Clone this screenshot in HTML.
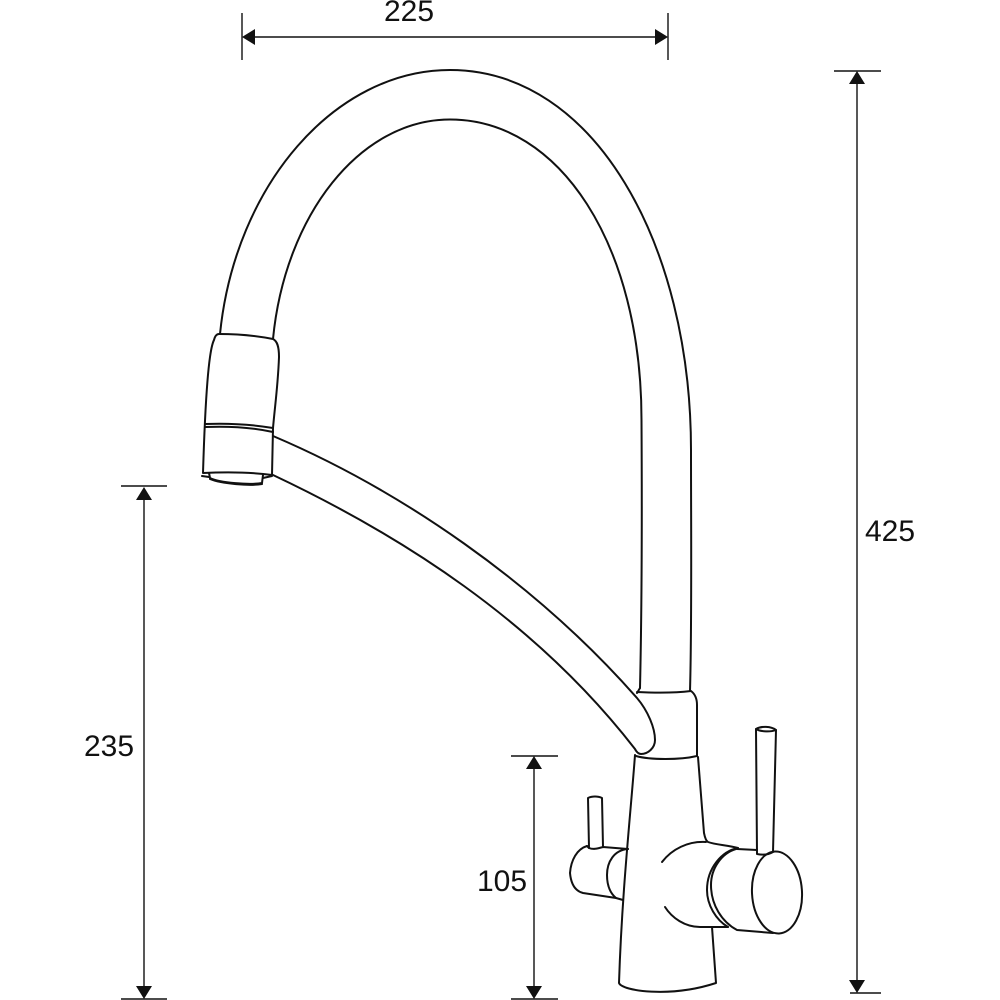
<!DOCTYPE html>
<html><head><meta charset="utf-8"><style>
html,body{margin:0;padding:0;background:#fff}
svg{display:block}
text{font-family:"Liberation Sans",sans-serif;font-size:30px;fill:#111}
.l{fill:#fff;stroke:#111;stroke-width:2;stroke-linejoin:round;stroke-linecap:round}
.n{fill:none;stroke:#111;stroke-width:2;stroke-linejoin:round;stroke-linecap:round}
.d{stroke:#111;stroke-width:1.4;fill:none}
</style></head><body>
<svg width="1000" height="1000" viewBox="0 0 1000 1000" xmlns="http://www.w3.org/2000/svg">
<!-- dimensions -->
<path class="d" d="M242,13V60M668,13V60M250,37H660M834,71H881M850,993H881M857,80V985M121,486H167M121,999H167M144,495V992M511,756H558M511,999H558M534,765V992"/>
<path d="M242,37L255,29V45ZM668,37L655,29V45ZM857,71L849,84H865ZM857,993L849,980H865ZM144,487L136,500H152ZM144,999L136,986H152ZM534,756L526,769H542ZM534,999L526,986H542Z" fill="#111"/>
<text x="384" y="21">225</text>
<text x="865" y="541">425</text>
<text x="84" y="756">235</text>
<text x="477" y="891">105</text>
<!-- flexible hose -->
<path class="n" d="M220,334C235,185 335,70 450,70C595,70 691,245 691,450C691,530 692,620 690,691"/>
<path class="n" d="M273,339C285,215 360,119.500 450,119.500C560,119.500 641.500,245 641.500,420C642,500 642,600 640,688"/>
<!-- spout -->
<path class="n" d="M273,436C400,490 535,582 637,698C648,711 655,728 655,740C655,748 648,754 641,754C638,754 636,751 635,749C535,620 400,535 273,475"/>
<!-- collar -->
<path class="n" d="M640,688L637,693M637,692C656,693 675,693 691,691C695,694 697,698 697,705L697,756C680,760 650,760 636,756"/>
<!-- body -->
<path class="n" d="M635,755C631,810 622,890 619,983C622,991 670,998 716,983L712,927"/>
<path class="n" d="M698,757L704,833C705,838 706,841 708,842C716,845 728,845 738,848"/>
<!-- rear knob -->
<path class="n" d="M628,849C614,850 607,862 607,875C607,885 610,893 616,898L623,900"/>
<path class="n" d="M587,846C577,849 571,860 570,873C571,884 575,891 583,893L616,898"/>
<path class="n" d="M587,846L589,848C594,850 599,848 603,847L628,849"/>
<path class="n" d="M589,848L588,798C592,796 598,796 602,798L603,847"/>
<!-- housing arcs -->
<path class="n" d="M662,862C672,849 688,841 706,842"/>
<path class="n" d="M665,907C672,918 685,927 700,927L728,927"/>
<!-- front knob -->
<path class="n" d="M738,848C722,851 707,868 707,890C707,905 716,920 728,927"/>
<path class="n" d="M736,849C722,853 711,868 711,885C711,905 722,922 737,930L773,933"/>
<path class="n" d="M737,849L757,850"/>
<ellipse class="l" cx="777" cy="892.500" rx="25" ry="41" transform="rotate(-3 777 892.500)"/>
<path class="n" d="M757,854L756,729C761,726 771,726 776,730L773,852C768,855 762,855 757,854Z"/>
<path class="n" d="M756,729C761,732 771,732 776,730"/>
<!-- head -->
<path class="l" d="M219,334C238,334 258,336 273,339C277,341 279,346 279,357C278,385 275,405 273,428L272,475C250,472 225,472 203,473C204,440 206,385 210,357C211,350 212,344 214,340C215,336 217,334 219,334Z"/>
<path class="n" d="M205,424C230,423 255,425 273,428M205,427C230,426 255,428 273,432"/>
<path class="n" d="M209,473L210,478C220,483 250,485 262,483L263,475"/>
<path class="n" d="M210,479C222,484 250,486 262,484"/>
<path class="n" d="M202,476L209,477M263,478L272,476"/>
</svg>
</body></html>
